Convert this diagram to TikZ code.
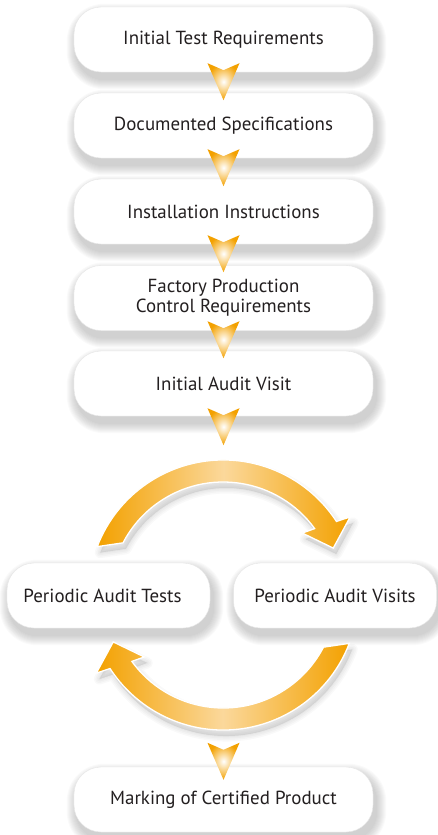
\documentclass[tikz,border=0pt]{standalone}
\usepackage{fontspec}
\setmainfont{PT Sans}
\usetikzlibrary{calc,backgrounds}
\definecolor{orA}{RGB}{243,161,0}
\definecolor{orL}{RGB}{251,216,155}
\definecolor{txt}{RGB}{35,31,32}
\newcommand\downhead[1]{%
  \shade[inner color=white, outer color=orA]
    ($(#1)+(-16,0)$) -- ($(#1)+(0,7)$) -- ($(#1)+(16,0)$) -- ($(#1)+(0,37)$) -- cycle;}
\def\arcTop{([shift={(-159:135)}]C) arc[start angle=-159, end angle=-33, radius=135]
  -- ([shift={(-31.6:149)}]C) -- ([shift={(-23.1:119.6)}]C) -- ([shift={(-38.1:100.4)}]C)
  -- ([shift={(-36:113)}]C) arc[start angle=-36, end angle=-152.5, radius=113] -- cycle}
\def\arcBot{([shift={(21:135)}]C) arc[start angle=21, end angle=147, radius=135]
  -- ([shift={(148.4:149)}]C) -- ([shift={(156.9:119.6)}]C) -- ([shift={(141.9:100.4)}]C)
  -- ([shift={(144:113)}]C) arc[start angle=144, end angle=27.5, radius=113] -- cycle}
\begin{document}
\begin{tikzpicture}[x=1bp,y=-1bp,
  stepbox/.style={draw=black!10, line width=0.4bp, fill=white, rounded corners=27bp,
    minimum width=299bp, minimum height=65bp, inner sep=0pt, align=center, text=txt,
    font=\fontsize{19}{20}\selectfont},
  sidebox/.style={stepbox, minimum width=203bp},
  bigarrow/.style={left color=orA, right color=orA, middle color=orL, draw=white, line width=1.3bp, line join=miter}]
\useasboundingbox (0,0) rectangle (438,835);
\node[stepbox] (b1) at (223.5,39.5) {Initial Test Requirements};
\node[stepbox] (b2) at (223.5,125.5) {Documented Specifications};
\node[stepbox] (b3) at (223.5,211.5) {Installation Instructions};
\node[stepbox] (b4) at (223.5,298) {Factory Production\\Control Requirements};
\node[stepbox] (b5) at (223.5,383.5) {Initial Audit Visit};
\node[sidebox] (pt) at (108.5,595.5) {Periodic Audit Tests\hspace*{12bp}};
\node[sidebox] (pv) at (335,595.5) {Periodic Audit Visits};
\node[stepbox] (b6) at (223.5,799.5) {Marking of Certified Product};
\coordinate (C) at ($(pt.east)!0.5!(pv.west)+(1.5,-0.5)$);
\begin{pgfonlayer}{background}
\foreach \n in {b1,b2,b3,b4,b5,b6,pt,pv}{
  \foreach \k in {1,...,10}{
    \pgfmathsetmacro\rr{27+\k}
    \fill[black, opacity=0.018, rounded corners=\rr bp]
      ($(\n.north west)+(3-\k,7-\k)$) rectangle ($(\n.south east)+(3+\k,7+\k)$);
  }}
\foreach \k in {2,5,8,11}{
  \filldraw[black, opacity=0.025, line width=\k bp, line join=round, transform canvas={shift={(3,6)}}] \arcTop;
  \filldraw[black, opacity=0.025, line width=\k bp, line join=round, transform canvas={shift={(3,6)}}] \arcBot;
}
\end{pgfonlayer}
\coordinate (h1) at ($(b1.south)+(0,-9)$);
\coordinate (h2) at ($(b2.south)+(0,-9)$);
\coordinate (h3) at ($(b3.south)+(0,-9)$);
\coordinate (h4) at ($(b4.south)+(0,-9.5)$);
\coordinate (h5) at ($(b5.south)+(0,-8)$);
\coordinate (h6) at ($(b6.north)+(0,-24)$);
\foreach \h in {h1,h2,h3,h4,h5,h6}{\downhead{\h}}
\shadedraw[bigarrow] \arcTop;
\shadedraw[bigarrow] \arcBot;
\end{tikzpicture}
\end{document}
